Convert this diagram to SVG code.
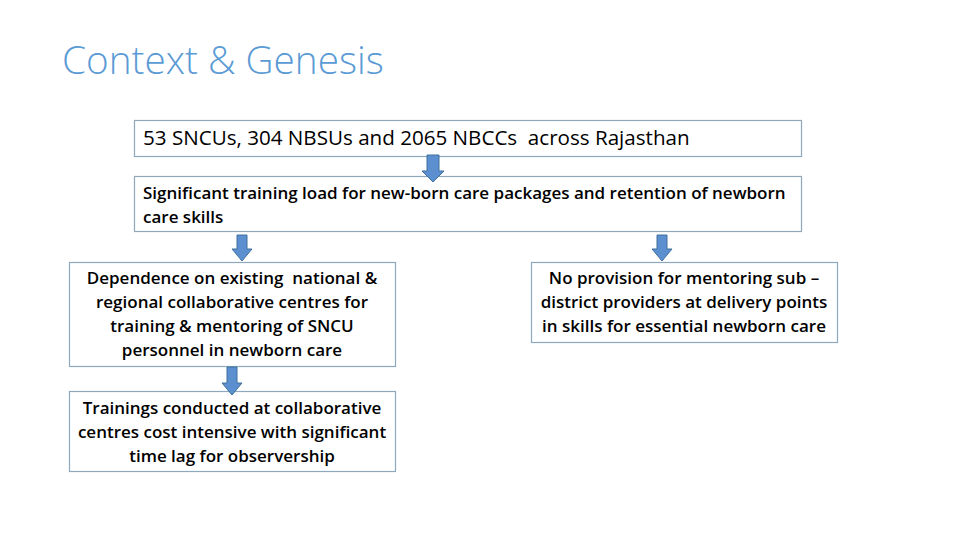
<svg xmlns="http://www.w3.org/2000/svg" width="960" height="540" viewBox="0 0 960 540">
<defs>
<style>
.box{fill:#ffffff;stroke:#8ea9bd;stroke-width:1.2}
.t{font-family:"Open Sans","Noto Sans","Liberation Sans",sans-serif;fill:#000;white-space:pre}
.b{font-size:17px;font-weight:600}
.c{text-anchor:middle}
.arrow{fill:#5b8fd0;stroke:#41719c;stroke-width:1}
</style>
</defs>
<rect width="960" height="540" fill="#ffffff"/>
<text x="62" y="74" font-family="Open Sans, Noto Sans, sans-serif" font-weight="300" font-size="38.7" fill="#5b9bd5">Context &amp; Genesis</text>
<g id="n1">
<rect class="box" x="134.5" y="120.5" width="667" height="36"/>
<text class="t" x="143" y="145" font-size="20.6">53 SNCUs, 304 NBSUs and 2065 NBCCs  across Rajasthan</text>
</g>
<g id="n2">
<rect class="box" x="134.5" y="176.5" width="667" height="55"/>
<text class="t b" x="143" y="199">Significant training load for new-born care packages and retention of newborn</text>
<text class="t b" x="143" y="223">care skills</text>
</g>
<g id="n3">
<rect class="box" x="69.5" y="262.5" width="326" height="104"/>
<text class="t b c" x="232" y="284">Dependence on existing  national &amp;</text>
<text class="t b c" x="232" y="308">regional collaborative centres for</text>
<text class="t b c" x="232" y="332">training &amp; mentoring of SNCU</text>
<text class="t b c" x="232" y="356">personnel in newborn care</text>
</g>
<g id="n4">
<rect class="box" x="531.5" y="262.5" width="306" height="80"/>
<text class="t b c" x="684" y="284">No provision for mentoring sub –</text>
<text class="t b c" x="684" y="308">district providers at delivery points</text>
<text class="t b c" x="684" y="332">in skills for essential newborn care</text>
</g>
<g id="n5">
<rect class="box" x="69.5" y="391.5" width="326" height="80"/>
<text class="t b c" x="232" y="414">Trainings conducted at collaborative</text>
<text class="t b c" x="232" y="438">centres cost intensive with significant</text>
<text class="t b c" x="232" y="462">time lag for observership</text>
</g>
<g id="connectors">
<path class="arrow" d="M427,155 H439 V171 H444 L433,182 L422,171 H427 Z"/>
<path class="arrow" d="M237,235 H247 V249 H252 L242,261 L232,249 H237 Z"/>
<path class="arrow" d="M657,235 H667 V249 H672 L662,261 L652,249 H657 Z"/>
<path class="arrow" d="M227,367 H237 V383 H242 L232,395 L222,383 H227 Z"/>
</g>
</svg>
